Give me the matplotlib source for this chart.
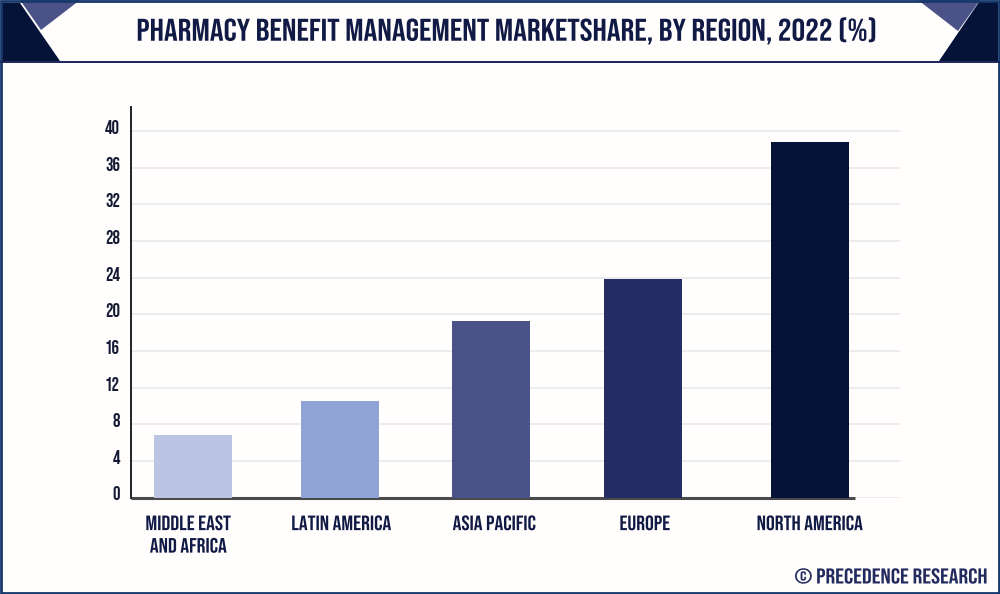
import matplotlib
matplotlib.use("Agg")
import matplotlib.pyplot as plt
from matplotlib.patches import Polygon, Rectangle
from matplotlib.patheffects import AbstractPathEffect
from matplotlib.transforms import Affine2D, ScaledTranslation
from matplotlib import font_manager as fm

names = {f.name for f in fm.fontManager.ttflist}
FONT = next(n for n in ['Bebas Neue', 'Oswald', 'Antonio', 'Liberation Sans'] if n in names)
plt.rcParams['font.family'] = [FONT, 'DejaVu Sans']

categories = ['MIDDLE EAST\nAND AFRICA', 'LATIN AMERICA', 'ASIA PACIFIC', 'EUROPE', 'NORTH AMERICA']
values = [6.8, 10.5, 19.3, 23.8, 38.8]
bar_centers = [193, 340, 490.5, 643, 810]
label_centers = [188.5, 341.5, 494.5, 645, 810]
colors = ['#bcc4e3', '#8fa4d4', '#4a5288', '#252d66', '#061338']
yticks = list(range(0, 41, 4))
NAVY = '#111a45'

W, H = 1000, 594


class HStretch(AbstractPathEffect):
    """Widen the drawn glyphs about a fixed pixel column (stands in for letter-spacing)."""
    def __init__(self, anchor_px, factor):
        super().__init__()
        self.anchor, self.factor = anchor_px, factor

    def draw_path(self, renderer, gc, tpath, affine, rgbFace=None):
        t = affine + Affine2D().translate(-self.anchor, 0).scale(self.factor, 1).translate(self.anchor, 0)
        renderer.draw_path(gc, tpath, t, rgbFace)


fig = plt.figure(figsize=(W / 100, H / 100), dpi=100, facecolor='#fffefd')

bg = fig.add_axes([0, 0, 1, 1], zorder=0)
bg.set_xlim(0, W); bg.set_ylim(H, 0); bg.axis('off')
bg.add_patch(Polygon([(20, 0), (80, 0), (41, 30)], fc='#4a5288', ec='none'))
bg.add_patch(Polygon([(2, 3), (20, 3), (60, 61), (2, 61)], fc='#061338', ec='none'))
bg.add_patch(Polygon([(918, 0), (980, 0), (958, 31)], fc='#4a5288', ec='none'))
bg.add_patch(Polygon([(979, 2), (998, 2), (998, 61), (939, 61)], fc='#061338', ec='none'))
bg.plot([0, W], [61.5, 61.5], color='#1c2458', lw=1.4)
bg.add_patch(Rectangle((0.8, 0.8), W - 1.6, H - 1.6, fc='none', ec='#17386b', lw=2.0))
bg.text(506, 31, 'PHARMACY BENEFIT MANAGEMENT MARKETSHARE, BY REGION, 2022 (%)',
        ha='center', va='center', fontsize=22.6, color=NAVY,
        path_effects=[HStretch(506, 1.09)])
bg.text(987, 575.5, '© PRECEDENCE RESEARCH', ha='right', va='center',
        fontsize=15.5, color='#232b5e', path_effects=[HStretch(987, 1.12)])

ax = fig.add_axes([131 / W, 1 - 497.5 / H, (900 - 131) / W, (497.5 - 107) / H], zorder=1)
ax.patch.set_alpha(0)
ax.set_xlim(131, 900)
ax.set_ylim(0, (497.5 - 107) / 9.16)
ax.bar(bar_centers, values, width=78, color=colors, zorder=3)
ax.set_yticks(yticks)
ax.set_yticklabels([str(t) for t in yticks], fontsize=13.5, color='#141a33')
ax.set_xticks(label_centers)
ax.set_xticklabels(categories, fontsize=15, color=NAVY, linespacing=1.5)
ax.tick_params(axis='both', length=0)
ax.tick_params(axis='x', pad=12.7)
ax.tick_params(axis='y', pad=8)
for lab, cx in zip(ax.get_xticklabels(), label_centers):
    lab.set_path_effects([HStretch(cx, 1.05)])
up = ScaledTranslation(0, 4 / 100, fig.dpi_scale_trans)
for lab in ax.get_yticklabels():
    lab.set_transform(lab.get_transform() + up)
ax.grid(axis='y', color='#e9e9ec', lw=1.2, zorder=0)
for s in ['top', 'right', 'bottom']:
    ax.spines[s].set_visible(False)
ax.spines['left'].set_color('#222222')
ax.spines['left'].set_linewidth(1.4)
ax.plot([131, 855], [0, 0], color='#4a4a4a', lw=2.2, zorder=2, clip_on=False, solid_capstyle='butt')

fig.savefig('out.png', dpi=100, facecolor=fig.get_facecolor())
